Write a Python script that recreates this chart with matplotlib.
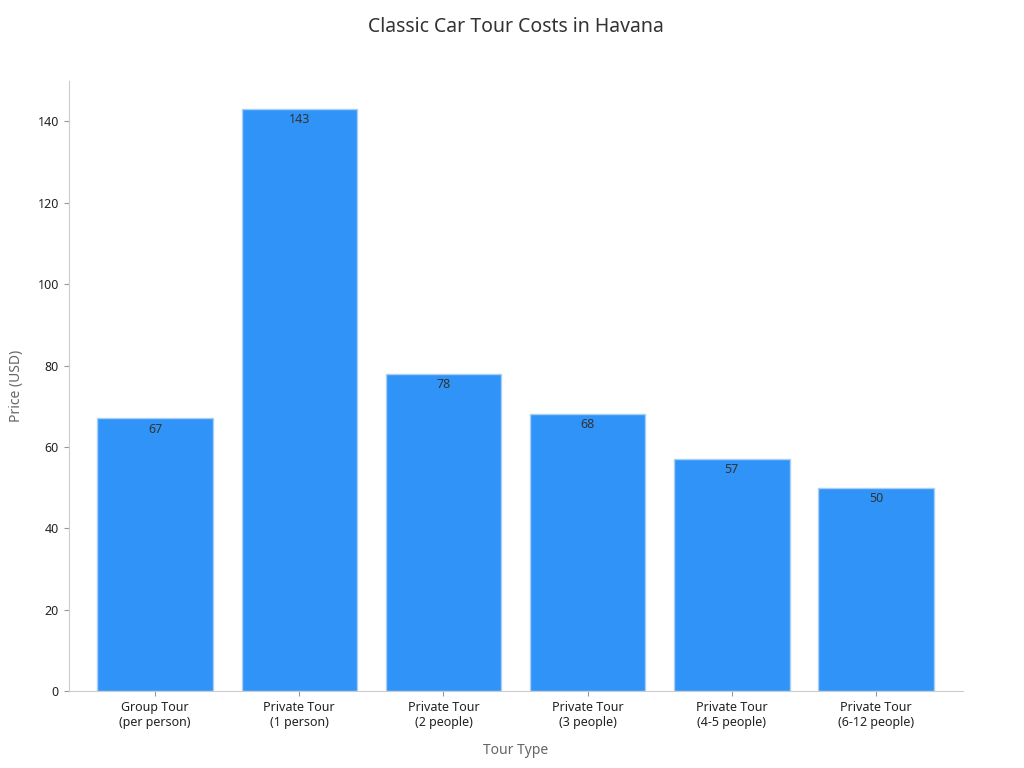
import matplotlib
matplotlib.use("Agg")
import matplotlib.pyplot as plt

categories = ["Group Tour\n(per person)", "Private Tour\n(1 person)", "Private Tour\n(2 people)",
              "Private Tour\n(3 people)", "Private Tour\n(4-5 people)", "Private Tour\n(6-12 people)"]
values = [67, 143, 78, 68, 57, 50]

plt.rcParams['font.family'] = ['Noto Sans', 'DejaVu Sans']
fig, ax = plt.subplots(figsize=(10.24, 7.68), dpi=100)
fig.subplots_adjust(left=0.067, right=0.94, top=0.895, bottom=0.1)
bars = ax.bar(range(len(values)), values, width=0.8, color="#2f93f7", edgecolor="#a9cff5", linewidth=1)
for i, v in enumerate(values):
    ax.text(i, v - 1, str(v), ha="center", va="top", fontsize=9, color="#333333")
ax.set_xticks(range(len(values)))
ax.set_xticklabels(categories, fontsize=9, color="#222222")
ax.tick_params(axis='y', labelsize=9, colors="#222222")
ax.tick_params(color="#999999")
ax.set_ylim(0, 150)
ax.set_xlim(-0.6, 5.6)
ax.set_yticks(range(0, 141, 20))
ax.set_xlabel("Tour Type", fontsize=10, color="#666666", labelpad=10)
ax.set_ylabel("Price (USD)", fontsize=10, color="#666666", labelpad=10)
ax.set_title("Classic Car Tour Costs in Havana", fontsize=14, color="#333333", pad=35)
for s in ["top", "right"]:
    ax.spines[s].set_visible(False)
for s in ["left", "bottom"]:
    ax.spines[s].set_color("#cccccc")
fig.savefig("out.png")
